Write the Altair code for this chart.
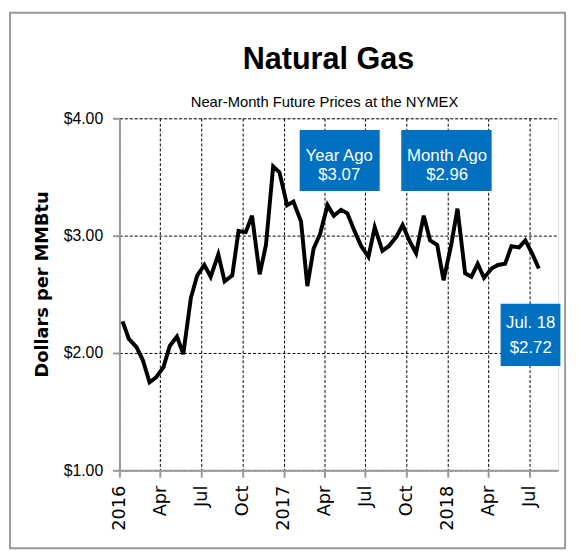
import altair as alt
import pandas as pd

# ---- data ----
years = [2016] * 24 + [2017] * 24 + [2018] * 14
months = [m for m in range(1, 13) for _ in (0, 1)] * 2 + [m for m in range(1, 8) for _ in (0, 1)]
days = [8, 22] * 31
prices = [
    2.27, 2.12, 2.05, 1.94, 1.75, 1.79, 1.88, 2.06, 2.14, 1.99, 2.47, 2.66,
    2.75, 2.65, 2.84, 2.61, 2.66, 3.04, 3.03, 3.17, 2.67, 2.92, 3.59, 3.54,
    3.26, 3.29, 3.12, 2.57, 2.89, 3.01, 3.26, 3.17, 3.22, 3.19, 3.03, 2.91,
    2.82, 3.07, 2.87, 2.91, 2.99, 3.09, 2.95, 2.85, 3.17, 2.96, 2.92, 2.62,
    2.92, 3.23, 2.68, 2.65, 2.76, 2.64, 2.72, 2.75, 2.76, 2.91, 2.90, 2.96,
    2.84, 2.72,
]
dates = [f"{y:04d}-{m:02d}-{d:02d}T00:00:00" for y, m, d in zip(years, months, days)]

tick_dates = ["2016-01-01", "2016-04-01", "2016-07-01", "2016-10-01",
              "2017-01-01", "2017-04-01", "2017-07-01", "2017-10-01",
              "2018-01-01", "2018-04-01", "2018-07-01"]

box_x1 = ["2017-02-05T00:00:00", "2017-09-19T00:00:00", "2018-04-28T00:00:00"]
box_x2 = ["2017-08-02T00:00:00", "2018-04-08T00:00:00", "2018-09-08T00:00:00"]
box_y1 = [3.90, 3.90, 2.42]
box_y2 = [3.38, 3.38, 1.89]
label_x = ["2017-05-04T00:00:00", "2017-12-30T00:00:00", "2018-07-04T00:00:00"]
label_line1 = ["Year Ago", "Month Ago", "Jul. 18"]
label_line2 = ["$3.07", "$2.96", "$2.72"]
label_y1 = [3.68, 3.68, 2.255]
label_y2 = [3.52, 3.52, 2.04]

df = pd.DataFrame({"date": dates, "price": prices})
boxes = pd.DataFrame({"x1": box_x1, "x2": box_x2, "y1": box_y1, "y2": box_y2})
labels = pd.DataFrame({
    "x": label_x * 2,
    "y": label_y1 + label_y2,
    "t": label_line1 + label_line2,
})

SANS = "Liberation Sans, Arial"

x_scale = alt.Scale(domain=[alt.DateTime(year=2016, month=1, date=1),
                            alt.DateTime(year=2018, month=9, date=3)])
y_scale = alt.Scale(domain=[1, 4])

tick_vals = [alt.DateTime(year=int(s[:4]), month=int(s[5:7]), date=1) for s in tick_dates]

x_enc = alt.X(
    "date:T", scale=x_scale, title=None,
    axis=alt.Axis(
        values=tick_vals,
        labelExpr="month(datum.value) == 0 ? timeFormat(datum.value, '%Y') : timeFormat(datum.value, '%b')",
        labelAngle=270, labelAlign="right", labelBaseline="middle",
        labelFont="DejaVu Sans", labelFontSize=18, labelColor="black",
        labelPadding=8, tickSize=7, tickColor="#999999", tickWidth=2,
        domainColor="#999999", domainWidth=2,
        grid=True, gridColor="black", gridDash=[3, 2], gridWidth=1,
        labelOverlap=False, labelFlush=False,
    ),
)
y_enc = alt.Y(
    "price:Q", scale=y_scale,
    title="Dollars per MMBtu",
    axis=alt.Axis(
        values=[1, 2, 3, 4], format="$.2f",
        labelFont=SANS, labelFontSize=16, labelColor="black",
        labelPadding=10, tickSize=7, tickColor="#999999", tickWidth=2,
        domainColor="#999999", domainWidth=2,
        grid=True, gridColor="black", gridDash=[3, 2], gridWidth=1,
        titleFont="DejaVu Sans", titleFontSize=18, titleFontWeight="bold",
        titleColor="black", titlePadding=12, titleY=168,
    ),
)

line = alt.Chart(df).mark_line(color="black", strokeWidth=4, strokeJoin="miter").encode(
    x=x_enc, y=y_enc
)

rects = alt.Chart(boxes).mark_rect(color="#0070C0").encode(
    x=alt.X("x1:T", scale=x_scale), x2="x2:T",
    y=alt.Y("y1:Q", scale=y_scale), y2="y2:Q",
)

texts = alt.Chart(labels).mark_text(
    color="white", font=SANS, fontSize=17, baseline="middle", align="center"
).encode(
    x=alt.X("x:T", scale=x_scale), y=alt.Y("y:Q", scale=y_scale), text="t:N"
)

title_df = pd.DataFrame({"t": ["Natural Gas"]})
sub_df = pd.DataFrame({"t": ["Near-Month  Future Prices at the NYMEX"]})

title = alt.Chart(title_df).mark_text(
    font=SANS, fontSize=31, fontWeight="bold", color="black",
    align="center", baseline="alphabetic"
).encode(x=alt.value(212), y=alt.value(-50), text="t:N")

subtitle = alt.Chart(sub_df).mark_text(
    font=SANS, fontSize=15, color="black", align="center", baseline="alphabetic"
).encode(x=alt.value(208), y=alt.value(-11), text="t:N")

frame = alt.Chart(title_df).mark_rect(
    filled=False, stroke="#999999", strokeWidth=2
).encode(x=alt.value(-111), x2=alt.value(452), y=alt.value(-107), y2=alt.value(436))

chart = alt.layer(frame, line, rects, texts, title, subtitle).properties(
    width=445, height=357,
    autosize=alt.AutoSizeParams(type="none"),
    padding={"left": 113, "top": 108, "right": 12, "bottom": 81},
).configure_view(stroke="#999999", strokeWidth=2).configure(background="white")

chart.save("out.html", embed_options={"renderer": "svg", "actions": False})
